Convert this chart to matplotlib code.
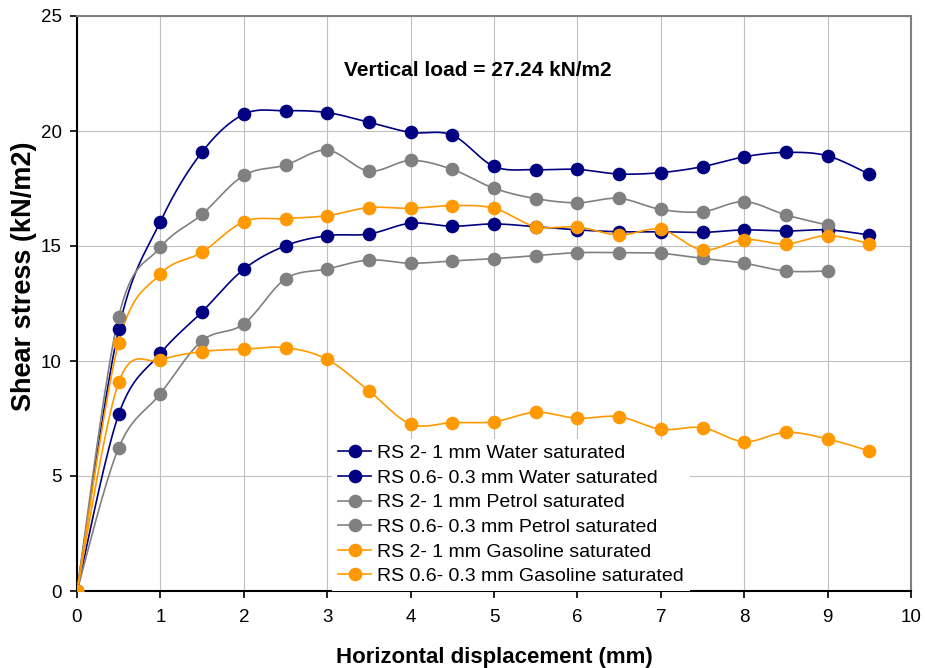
import numpy as np
import matplotlib
matplotlib.use("Agg")
import matplotlib.pyplot as plt

plt.rcParams['font.family'] = ['Liberation Sans', 'DejaVu Sans']

# ---------------- data ----------------
x_full = [0, 0.5, 1, 1.5, 2, 2.5, 3, 3.5, 4, 4.5, 5, 5.5, 6, 6.5, 7, 7.5, 8, 8.5, 9, 9.5]
x_short = [0, 0.5, 1, 1.5, 2, 2.5, 3, 3.5, 4, 4.5, 5, 5.5, 6, 6.5, 7, 7.5, 8, 8.5, 9]

water_2_1 = [0, 11.39, 16.06, 19.09, 20.73, 20.88, 20.80, 20.38, 19.94, 19.82, 18.46,
             18.32, 18.33, 18.13, 18.19, 18.45, 18.88, 19.07, 18.92, 18.12]
water_06_03 = [0, 7.68, 10.33, 12.14, 13.99, 15.01, 15.45, 15.52, 15.99, 15.86, 15.96,
               15.84, 15.70, 15.62, 15.62, 15.59, 15.70, 15.65, 15.70, 15.48]
petrol_2_1 = [0, 11.93, 14.94, 16.38, 18.07, 18.52, 19.17, 18.26, 18.72, 18.33, 17.51,
              17.06, 16.88, 17.07, 16.59, 16.49, 16.93, 16.35, 15.91]
petrol_06_03 = [0, 6.23, 8.58, 10.88, 11.61, 13.57, 14.00, 14.39, 14.25, 14.35, 14.45,
                14.58, 14.71, 14.71, 14.68, 14.46, 14.25, 13.91, 13.91]
gasoline_2_1 = [0, 10.80, 13.78, 14.73, 16.06, 16.19, 16.32, 16.67, 16.64, 16.76, 16.64,
                15.84, 15.83, 15.48, 15.72, 14.83, 15.28, 15.09, 15.45, 15.10]
gasoline_06_03 = [0, 9.07, 10.03, 10.41, 10.51, 10.58, 10.07, 8.70, 7.26, 7.32, 7.36,
                  7.77, 7.51, 7.58, 7.03, 7.10, 6.49, 6.90, 6.61, 6.09]

labels = ["RS 2- 1 mm Water saturated",
          "RS 0.6- 0.3 mm Water saturated",
          "RS 2- 1 mm Petrol saturated",
          "RS 0.6- 0.3 mm Petrol saturated",
          "RS 2- 1 mm Gasoline saturated",
          "RS 0.6- 0.3 mm Gasoline saturated"]

title_text = "Vertical load = 27.24 kN/m2"
x_label = "Horizontal displacement (mm)"
y_label = "Shear stress (kN/m2)"

NAVY = "#000080"
GRAY = "#808080"
ORANGE = "#FF9900"


def smooth(xs, ys, n=20):
    """Excel-like smoothed line (Catmull-Rom as cubic Bezier) through the points."""
    xs = np.asarray(xs, float)
    ys = np.asarray(ys, float)
    P = np.column_stack([xs, ys])
    out = [P[0]]
    t = np.linspace(0, 1, n)[1:]
    for i in range(len(P) - 1):
        p0 = P[i - 1] if i > 0 else P[i]
        p1 = P[i]
        p2 = P[i + 1]
        p3 = P[i + 2] if i + 2 < len(P) else P[i + 1]
        c1 = p1 + (p2 - p0) / 6.0
        c2 = p2 - (p3 - p1) / 6.0
        for tt in t:
            b = ((1 - tt) ** 3) * p1 + 3 * ((1 - tt) ** 2) * tt * c1 + 3 * (1 - tt) * tt ** 2 * c2 + tt ** 3 * p2
            out.append(b)
    out = np.array(out)
    return out[:, 0], out[:, 1]


fig = plt.figure(figsize=(9.25, 6.68), dpi=100)
ax = fig.add_axes([77 / 925, 1 - 591 / 668, 834 / 925, 575 / 668])

series = [
    (x_full, water_2_1, NAVY),
    (x_full, water_06_03, NAVY),
    (x_short, petrol_2_1, GRAY),
    (x_short, petrol_06_03, GRAY),
    (x_full, gasoline_2_1, ORANGE),
    (x_full, gasoline_06_03, ORANGE),
]

handles = []
for (xs, ys, c), lab in zip(series, labels):
    sx, sy = smooth(xs, ys)
    ax.plot(sx, sy, color=c, lw=1.2, zorder=3)
    ax.plot(xs, ys, 'o', color=c, ms=8.8, mec=c, zorder=4)
    h, = ax.plot([], [], '-o', color=c, lw=1.2, ms=8.8, mec=c, label=lab)
    handles.append(h)

ax.set_xlim(0, 10)
ax.set_ylim(0, 25)
ax.set_xticks(range(0, 11))
ax.set_yticks(range(0, 26, 5))
ax.grid(True, color="#c0c0c0", lw=0.8)
ax.set_axisbelow(True)

for s in ['left', 'bottom']:
    ax.spines[s].set_color('black')
    ax.spines[s].set_linewidth(1.5)
for s in ['top', 'right']:
    ax.spines[s].set_color('#808080')
    ax.spines[s].set_linewidth(1.5)

ax.tick_params(axis='both', direction='out', length=5, width=1.2, labelsize=13.5, colors='black')
ax.tick_params(axis='x', pad=8)
ax.tick_params(axis='y', pad=6)

ax.set_xlabel(x_label, fontsize=16, fontweight='bold', labelpad=15)
ax.set_ylabel(y_label, fontsize=19.5, fontweight='bold')
ax.yaxis.label.set_va('center')
ax.yaxis.set_label_coords((24 - 77) / 834, (591 - 276) / 575)

ax.text(0.481, 0.905, title_text, transform=ax.transAxes, ha='center', va='center',
        fontsize=15, fontweight='bold')

leg = ax.legend(handles=handles, loc='lower left', bbox_to_anchor=(0.306, 0.0),
                borderaxespad=0.0, fontsize=14, frameon=True, facecolor='white',
                edgecolor='none', framealpha=1.0, fancybox=False,
                handlelength=1.7, handletextpad=0.3, labelspacing=0.36,
                borderpad=0.3)
leg.set_zorder(5)

fig.savefig("out.png", dpi=100)
